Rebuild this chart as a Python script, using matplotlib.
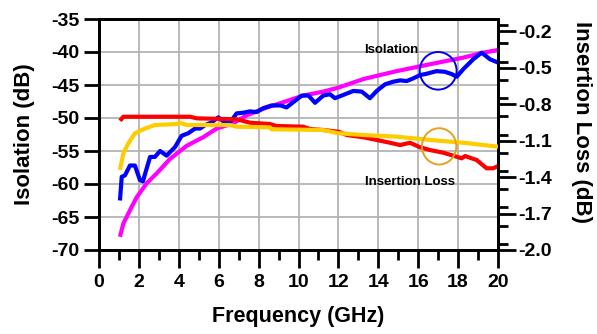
import matplotlib
matplotlib.use("Agg")
import matplotlib.pyplot as plt
from matplotlib.patches import Ellipse
from matplotlib.ticker import MultipleLocator

plt.rcParams['font.family'] = ['Liberation Sans', 'DejaVu Sans']
plt.rcParams['font.weight'] = 'bold'

# Isolation, measured (blue), left axis
iso_meas_f = [1.05, 1.14, 1.3, 1.55, 1.8, 2.05, 2.2, 2.56, 2.8, 3.06, 3.39, 3.81, 4.14, 4.48,
              4.81, 5.06, 5.31, 5.65, 5.98, 6.23, 6.57, 6.9, 7.23, 7.57, 7.9, 8.24, 8.65, 9.1,
              9.4, 9.74, 10.16, 10.5, 10.83, 11.24, 11.58, 11.83, 12.25, 12.75, 13.17, 13.58,
              13.92, 14.34, 14.75, 15.1, 15.42, 15.75, 16.09, 16.42, 16.92, 17.34, 17.68, 17.93,
              18.26, 18.76, 19.18, 19.6, 20.0]
iso_meas_v = [-62.5, -58.9, -58.7, -57.2, -57.2, -59.4, -59.6, -55.9, -55.9, -55.0, -55.7, -54.4,
              -52.7, -52.3, -51.6, -51.6, -51.1, -50.65, -49.9, -50.5, -50.65, -49.3, -49.2, -49.0,
              -49.1, -48.5, -48.1, -48.1, -48.4, -47.6, -46.6, -46.6, -47.7, -46.6, -46.4, -47.0,
              -46.5, -45.9, -46.0, -47.0, -45.9, -44.9, -44.5, -44.3, -44.4, -44.0, -43.5, -43.3,
              -42.9, -43.0, -43.35, -43.75, -42.6, -41.1, -40.1, -41.1, -41.6]

# Isolation, simulated (magenta), left axis
iso_sim_f = [1.05, 1.22, 1.55, 1.89, 2.39, 2.89, 3.56, 4.4, 5.23, 5.9, 6.73, 7.4, 8.24, 9.24,
             10.24, 11.24, 12.0, 13.25, 14.92, 16.6, 18.26, 19.26, 20.0]
iso_sim_v = [-68.0, -66.0, -64.0, -62.0, -59.9, -58.4, -56.2, -54.2, -52.9, -51.6, -50.8, -49.6,
             -48.6, -47.6, -46.6, -46.0, -45.4, -44.1, -42.9, -41.85, -40.85, -40.1, -39.7]

# Insertion loss, measured (red), right axis
il_meas_f = [1.05, 1.22, 4.56, 4.9, 6.9, 7.57, 8.57, 8.9, 10.24, 10.58, 11.24, 12.0, 12.42, 13.25,
             13.92, 14.59, 15.09, 15.59, 16.09, 16.6, 17.26, 17.93, 18.18, 18.35, 18.93, 19.43,
             19.76, 20.0]
il_meas_v = [-0.937, -0.904, -0.904, -0.917, -0.925, -0.953, -0.964, -0.98, -0.986, -1.005, -1.013,
             -1.027, -1.054, -1.073, -1.095, -1.118, -1.137, -1.118, -1.155, -1.178, -1.2, -1.233,
             -1.246, -1.227, -1.26, -1.328, -1.328, -1.31]

# Insertion loss, simulated (yellow), right axis
il_sim_f = [1.05, 1.22, 1.47, 1.8, 2.22, 2.56, 2.8, 3.9, 4.06, 4.4, 6.57, 6.9, 8.57, 8.65, 11.24,
            12.0, 13.25, 14.92, 16.6, 18.26, 20.0]
il_sim_v = [-1.342, -1.205, -1.123, -1.04, -1.007, -0.986, -0.972, -0.964, -0.953, -0.972, -0.972,
            -0.986, -0.991, -1.007, -1.013, -1.04, -1.054, -1.068, -1.095, -1.118, -1.15]

x_ticks = list(range(0, 21, 2))
left_ticks = [-70, -65, -60, -55, -50, -45, -40, -35]
right_ticks = [-2.0, -1.7, -1.4, -1.1, -0.8, -0.5, -0.2]

fig = plt.figure(figsize=(5.97, 3.34), dpi=100)
ax = fig.add_axes([99/597, 1-250/334, 399/597, 231/334])
ax2 = ax.twinx()

ax.set_xlim(0, 20)
ax.set_ylim(-70, -35)
ax2.set_ylim(-2.0, -0.1)

grid_c = '#b4b4b4'
for gx in range(2, 20, 2):
    ax.axvline(gx, color=grid_c, lw=1.3, zorder=0)
for gy in range(-65, -35, 5):
    ax.axhline(gy, color=grid_c, lw=1.3, zorder=0)

lw = 3.0
ax.plot(iso_sim_f, iso_sim_v, color='#ff00ff', lw=lw, solid_capstyle='butt', zorder=3)
ax.plot(iso_meas_f, iso_meas_v, color='#0000ff', lw=lw, solid_capstyle='butt', zorder=4)
ax2.plot(il_sim_f, il_sim_v, color='#ffcc00', lw=lw, solid_capstyle='butt', zorder=3)
ax2.plot(il_meas_f, il_meas_v, color='#ff0000', lw=lw, solid_capstyle='butt', zorder=2)

ax2.add_artist(Ellipse((17.0, -42.85), 1.85, 5.7, transform=ax.transData,
                       fill=False, edgecolor='#0000ee', lw=1.4, zorder=5))
ax2.add_artist(Ellipse((17.05, -54.3), 1.72, 5.5, transform=ax.transData,
                       fill=False, edgecolor='#e6a020', lw=1.4, zorder=5))

ax.text(14.64, -40.14, 'Isolation', fontsize=9.5, fontweight='bold', ha='center', va='baseline')
ax.text(15.57, -60.2, 'Insertion Loss', fontsize=9.5, fontweight='bold', ha='center', va='baseline')

ax.set_xticks(x_ticks)
ax.xaxis.set_minor_locator(MultipleLocator(1))
ax.set_yticks(left_ticks)
ax.set_yticklabels([str(t) for t in left_ticks])
ax2.set_yticks(right_ticks)
ax2.set_yticklabels([f"{t:.1f}" for t in right_ticks])
ax2.yaxis.set_minor_locator(MultipleLocator(0.15))

ax.tick_params(axis='x', which='major', direction='out', length=13, width=2, labelsize=14, pad=4)
ax.tick_params(axis='x', which='minor', direction='out', length=7, width=2)
ax.tick_params(axis='y', which='major', direction='out', length=11, width=2, labelsize=14, pad=3)
ax2.tick_params(axis='y', which='major', direction='out', length=13, width=2, labelsize=14, pad=1.5)
ax2.tick_params(axis='y', which='minor', direction='out', length=7, width=2)

for a in (ax, ax2):
    for s in a.spines.values():
        s.set_linewidth(2)
        s.set_color('black')

for lab in ax.get_xticklabels() + ax.get_yticklabels() + ax2.get_yticklabels():
    lab.set_fontweight('bold')

ax.set_xlabel('Frequency (GHz)', fontsize=15.5, fontweight='bold', va='center', ha='center')
ax.xaxis.set_label_coords(0.5, -0.286)
ax.set_ylabel('Isolation (dB)', fontsize=16, fontweight='bold', va='center', ha='center')
ax.yaxis.set_label_coords(-0.186, 0.5)
ax2.set_ylabel('Insertion Loss (dB)', fontsize=16, fontweight='bold', rotation=-90,
               va='center', ha='center')
ax2.yaxis.set_label_coords(1.21, 0.553)

fig.savefig('out.png', dpi=100)
